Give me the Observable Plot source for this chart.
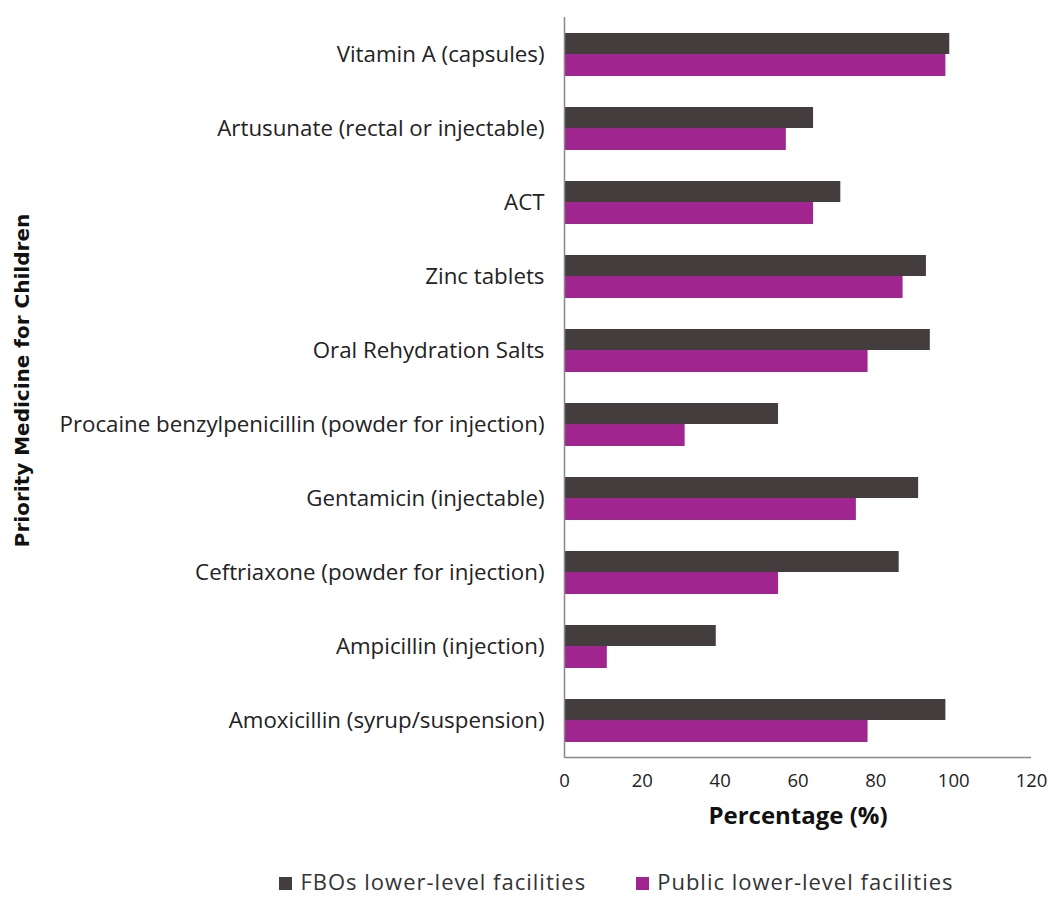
<!DOCTYPE html>
<html>
<head>
<meta charset="utf-8">
<script src="https://cdn.jsdelivr.net/npm/d3@7"></script>
<script src="https://cdn.jsdelivr.net/npm/@observablehq/plot@0.6"></script>
<style>
  body { margin: 0; background: #fff; position: relative; width: 1053px; height: 897px; overflow: hidden; }
  #chart svg { display: block; }
  #legend { position: absolute; top: 866px; left: 180px; width: 873px; height: 30px; line-height: 30px;
    display: flex; justify-content: center; gap: 50px; letter-spacing: 1px;
    font-family: "Open Sans", sans-serif; font-size: 22px; color: #333; }
  #legend span.sw { display: inline-block; width: 13px; height: 13px; margin-right: 8px; vertical-align: 0px; }
</style>
</head>
<body>
<div id="chart"></div>
<div id="legend"></div>
<script>
const categories = [
  "Vitamin A (capsules)",
  "Artusunate (rectal or injectable)",
  "ACT",
  "Zinc tablets",
  "Oral Rehydration Salts",
  "Procaine benzylpenicillin (powder for injection)",
  "Gentamicin (injectable)",
  "Ceftriaxone (powder for injection)",
  "Ampicillin (injection)",
  "Amoxicillin (syrup/suspension)"
];
const seriesNames = ["FBOs lower-level facilities", "Public lower-level facilities"];
const fboValues = [99, 64, 71, 93, 94, 55, 91, 86, 39, 98];
const publicValues = [98, 57, 64, 87, 78, 31, 75, 55, 11, 78];
const xTicks = [0, 20, 40, 60, 80, 100, 120];
const colors = ["#433e3d", "#a0258f"];

const fbo = categories.map((c, i) => ({category: c, value: fboValues[i]}));
const pub = categories.map((c, i) => ({category: c, value: publicValues[i]}));

const band = 74;
const chart = Plot.plot({
  width: 1053,
  height: 850,
  marginLeft: 564,
  marginRight: 22,
  marginTop: 17,
  marginBottom: 93,
  style: {fontFamily: "Open Sans, sans-serif", fontSize: "17px", color: "#222", background: "#fff"},
  x: {domain: [0, 120], ticks: xTicks, label: null},
  y: {domain: categories, padding: 0, label: null},
  marks: [
    Plot.barX(fbo, {x: "value", y: "category", fill: colors[0], insetTop: 16, insetBottom: 37}),
    Plot.barX(pub, {x: "value", y: "category", fill: colors[1], insetTop: 37, insetBottom: 15}),
    Plot.ruleX([0], {stroke: "#888", strokeWidth: 1.5}),
    Plot.ruleY([categories[categories.length - 1]], {stroke: "#888", strokeWidth: 1.5, dy: band / 2, x1: 0, x2: 120}),
    Plot.axisY({tickSize: 0, tickPadding: 20, fontSize: 22.3, label: null}),
    Plot.axisX({tickSize: 0, tickPadding: 16, fontSize: 18.5, label: null, ticks: xTicks}),
    Plot.text(["Percentage (%)"], {frameAnchor: "bottom", dy: 66, fontWeight: "bold", fontSize: 24, fontFamily: "Open Sans, sans-serif", fill: "#111"}),
    Plot.text(["Priority Medicine for Children"], {frameAnchor: "left", dx: -542, dy: -7, rotate: -90, textAnchor: "middle", fontWeight: "bold", fontSize: 20, fontFamily: "DejaVu Sans, sans-serif", fill: "#111"})
  ]
});
document.getElementById("chart").appendChild(chart);

const legend = document.getElementById("legend");
seriesNames.forEach((name, i) => {
  const item = document.createElement("div");
  item.innerHTML = `<span class="sw" style="background:${colors[i]}"></span>${name}`;
  legend.appendChild(item);
});
</script>
</body>
</html>
